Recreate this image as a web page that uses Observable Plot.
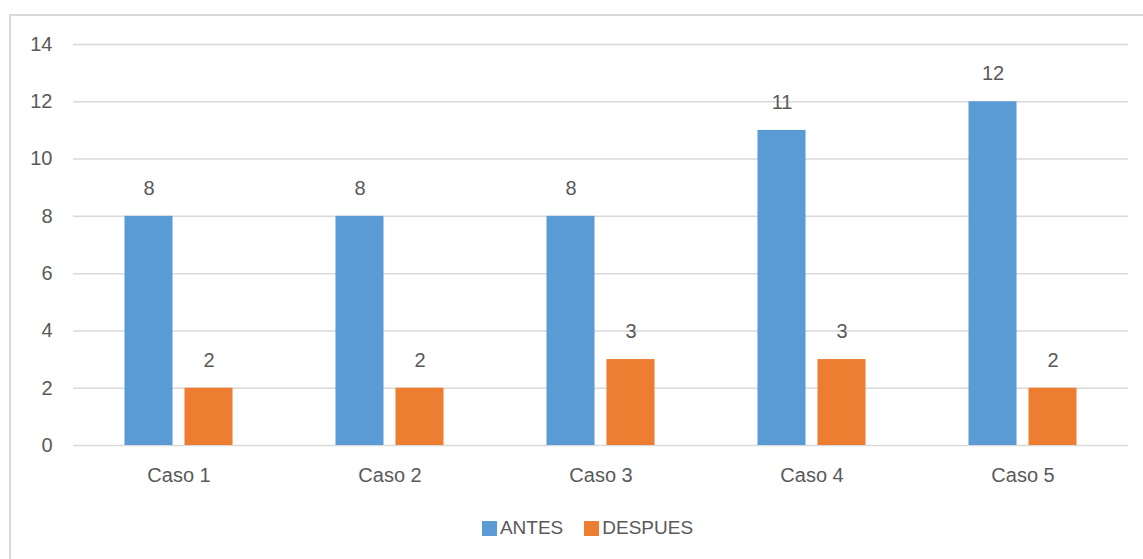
<!DOCTYPE html>
<html>
<head>
<meta charset="utf-8">
<script src="https://cdn.jsdelivr.net/npm/d3@7"></script>
<script src="https://cdn.jsdelivr.net/npm/@observablehq/plot@0.6"></script>
<style>
  html, body { margin: 0; padding: 0; background: #fff; overflow: hidden; }
  body { width: 1143px; height: 559px; position: relative; font-family: "Liberation Sans", Arial, sans-serif; }
  #frame { position: absolute; left: 9px; top: 14px; width: 1160px; height: 580px; border: 2px solid #d9d9d9; box-sizing: border-box; pointer-events: none; }
  #chart { position: absolute; left: 0; top: 0; }
  #legend { position: absolute; left: 16px; width: 1143px; top: 517px; display: flex; justify-content: center; gap: 21px; font-size: 19px; color: #595959; }
  #legend .item { display: flex; align-items: center; gap: 3px; }
  #legend .sw { width: 15px; height: 15px; display: inline-block; }
</style>
</head>
<body>
<div id="frame"></div>
<div id="chart"></div>
<div id="legend"></div>
<script>
const categories = ["Caso 1", "Caso 2", "Caso 3", "Caso 4", "Caso 5"];
const series = ["ANTES", "DESPUES"];
const antes = [8, 8, 8, 11, 12];
const despues = [2, 2, 3, 3, 2];
const yTicks = [0, 2, 4, 6, 8, 10, 12, 14];
const colors = ["#5b9bd5", "#ed7d31"];

const dataAntes = categories.map((c, i) => ({caso: c, serie: series[0], value: antes[i]}));
const dataDespues = categories.map((c, i) => ({caso: c, serie: series[1], value: despues[i]}));

const textColor = "#595959";
const fs = 20;

const chart = Plot.plot({
  width: 1143,
  height: 500,
  marginLeft: 73,
  marginRight: 15,
  marginTop: 44,
  marginBottom: 55,
  style: {fontFamily: "Liberation Sans, Arial, sans-serif", fontSize: fs + "px", color: textColor, background: "transparent", overflow: "visible"},
  x: {domain: categories, paddingInner: 0.488, paddingOuter: 0.244, round: false, label: null, tickSize: 0, tickPadding: 22},
  y: {domain: [0, 14], ticks: yTicks, label: null, tickSize: 0, tickPadding: 21},
  marks: [
    Plot.ruleY(yTicks, {stroke: "#d9d9d9", strokeWidth: 1.5}),
    Plot.barY(dataAntes, {x: "caso", y: "value", fill: colors[0], insetRight: 60, insetLeft: 0}),
    Plot.barY(dataDespues, {x: "caso", y: "value", fill: colors[1], insetLeft: 60, insetRight: 0}),
    Plot.text(dataAntes, {x: "caso", y: "value", text: d => String(d.value), dx: -30, dy: -28, fill: textColor, fontSize: fs}),
    Plot.text(dataDespues, {x: "caso", y: "value", text: d => String(d.value), dx: 30, dy: -28, fill: textColor, fontSize: fs}),
    Plot.axisX({tickSize: 0, tickPadding: 22, fontSize: fs, fill: textColor, label: null}),
    Plot.axisY({ticks: yTicks, tickSize: 0, tickPadding: 21, fontSize: fs, fill: textColor, label: null})
  ]
});
document.getElementById("chart").appendChild(chart);

const legend = document.getElementById("legend");
series.forEach((s, i) => {
  const item = document.createElement("div");
  item.className = "item";
  const sw = document.createElement("span");
  sw.className = "sw";
  sw.style.background = colors[i];
  const lab = document.createElement("span");
  lab.textContent = s;
  item.appendChild(sw);
  item.appendChild(lab);
  legend.appendChild(item);
});
</script>
</body>
</html>
